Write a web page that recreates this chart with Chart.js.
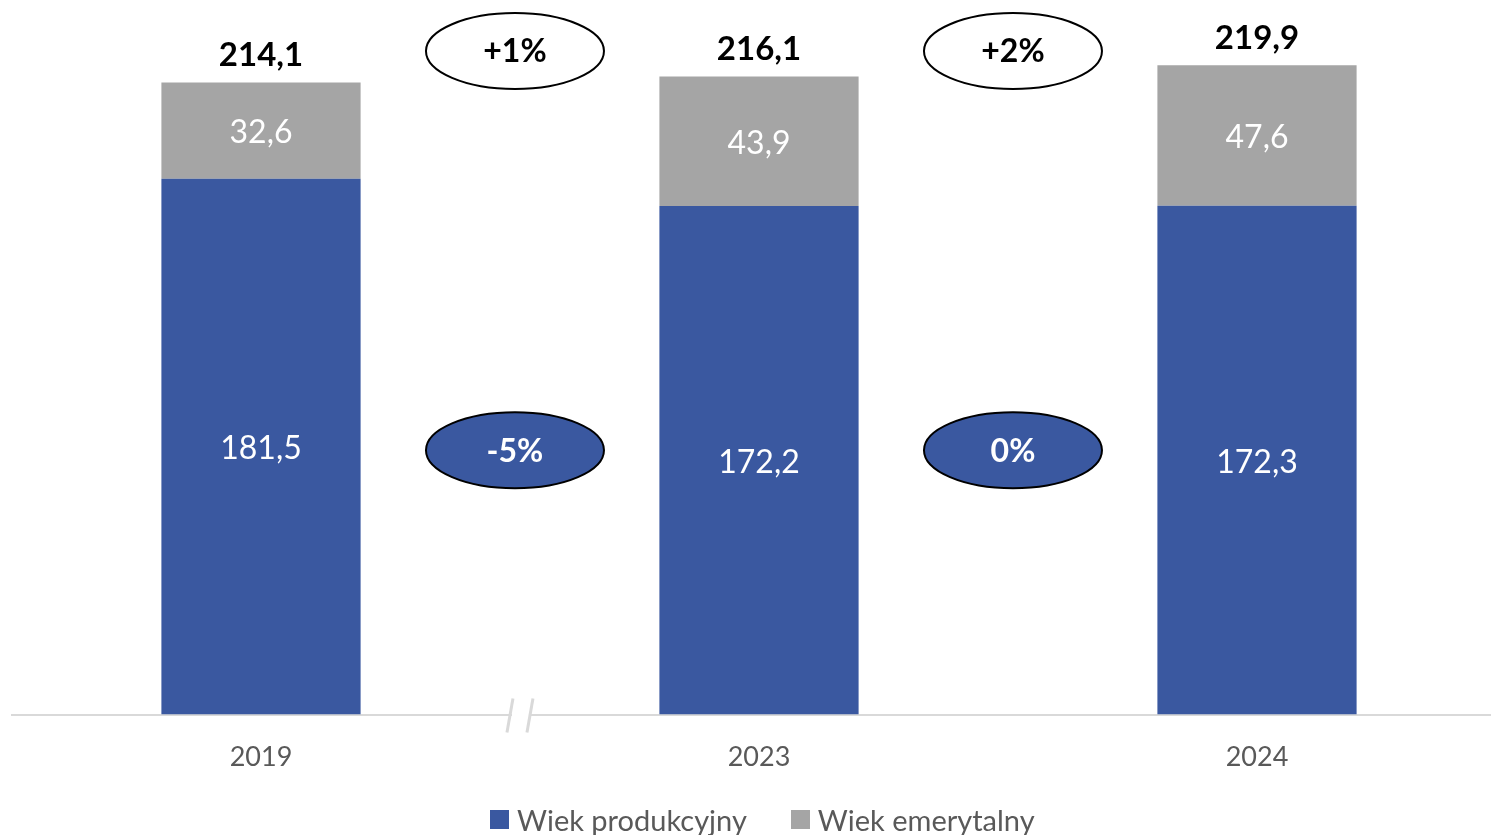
<!DOCTYPE html>
<html>
<head>
<meta charset="utf-8">
<script src="https://cdn.jsdelivr.net/npm/chart.js@4/dist/chart.umd.min.js"></script>
<style>
	html, body { margin: 0; padding: 0; background: #fff; overflow: hidden; }
	#wrap { position: relative; width: 1506px; height: 835px; }
	#legend {
		position: absolute; left: 490px; top: 801px; height: 36px;
		display: flex; align-items: center;
		font: 29px Lato, "Open Sans", sans-serif; color: #595959; white-space: nowrap;
	}
	#legend .item { display: flex; align-items: center; margin-right: 44px; }
	#legend .box { width: 19px; height: 19px; margin-right: 8px; }
</style>
</head>
<body>
<div id="wrap"><canvas id="chart"></canvas><div id="legend"></div></div>
<script>
var years = ['2019', '2023', '2024'];
var workingAge = [181.5, 172.2, 172.3];
var retiredAge = [32.6, 43.9, 47.6];
var seriesNames = ['Wiek produkcyjny', 'Wiek emerytalny'];

var BLUE = '#3A58A0';
var GREY = '#A5A5A5';
var FONT = 'Lato, "Open Sans", sans-serif';

function fmt(v) {
	return v.toFixed(1).replace('.', ',');
}

function pct(a, b) {
	var p = Math.round((b - a) / a * 100);
	return (p > 0 ? '+' : '') + p + '%';
}

// change bubbles between neighbouring years: totals on top, working age below
var bubbles = [];
for (var i = 0; i < years.length - 1; i++) {
	var t0 = workingAge[i] + retiredAge[i], t1 = workingAge[i + 1] + retiredAge[i + 1];
	bubbles.push({ x: i + 0.51, y: 224.7, text: pct(t0, t1), fill: '#fff', color: '#000' });
	bubbles.push({ x: i + 0.51, y: 89.5, text: pct(workingAge[i], workingAge[i + 1]), fill: BLUE, color: '#fff' });
}

var overlay = {
	id: 'overlay',
	afterDatasetsDraw: function (chart) {
		var ctx = chart.ctx, xs = chart.scales.x, ys = chart.scales.y;
		ctx.save();

		// values inside each segment
		ctx.font = '32px ' + FONT;
		ctx.fillStyle = '#fff';
		ctx.textAlign = 'center';
		ctx.textBaseline = 'middle';
		chart.data.datasets.forEach(function (ds, di) {
			chart.getDatasetMeta(di).data.forEach(function (bar, j) {
				ctx.fillText(fmt(ds.data[j]), bar.x, (bar.y + bar.base) / 2 + 2);
			});
		});

		// totals above the stacks
		ctx.font = 'bold 33px ' + FONT;
		ctx.fillStyle = '#000';
		chart.getDatasetMeta(1).data.forEach(function (bar, j) {
			ctx.fillText(fmt(workingAge[j] + retiredAge[j]), bar.x, bar.y - 27);
		});

		// change bubbles
		bubbles.forEach(function (b) {
			var cx = xs.getPixelForValue(b.x), cy = ys.getPixelForValue(b.y);
			ctx.beginPath();
			ctx.ellipse(cx, cy, 89, 38, 0, 0, Math.PI * 2);
			ctx.fillStyle = b.fill;
			ctx.fill();
			ctx.lineWidth = 2;
			ctx.strokeStyle = '#000';
			ctx.stroke();
			ctx.font = 'bold 32px ' + FONT;
			ctx.fillStyle = b.color;
			ctx.fillText(b.text, cx, cy + 1);
		});

		// axis break between 2019 and 2023
		var bx = xs.getPixelForValue(0.52), by = ys.getPixelForValue(0);
		ctx.fillStyle = '#fff';
		ctx.fillRect(bx - 8, by - 4, 17, 8);
		ctx.strokeStyle = '#D9D9D9';
		ctx.lineWidth = 3;
		[-10, 10].forEach(function (off) {
			ctx.beginPath();
			ctx.moveTo(bx + off + 3, by - 16);
			ctx.lineTo(bx + off - 3, by + 18);
			ctx.stroke();
		});
		ctx.restore();
	}
};

var chart = new Chart(document.getElementById('chart'), {
	type: 'bar',
	data: {
		labels: years,
		datasets: [
			{ label: seriesNames[0], data: workingAge, backgroundColor: BLUE },
			{ label: seriesNames[1], data: retiredAge, backgroundColor: GREY }
		]
	},
	options: {
		responsive: true,
		maintainAspectRatio: false,
		animation: false,
		datasets: { bar: { barPercentage: 0.4, categoryPercentage: 1 } },
		layout: { padding: { left: 12, right: 0, top: 0, bottom: 36 } },
		plugins: {
			tooltip: { enabled: false },
			legend: { display: false }
		},
		scales: {
			x: {
				stacked: true,
				grid: { display: false, drawTicks: false },
				border: { color: '#D9D9D9', width: 2 },
				ticks: { color: '#595959', font: { family: FONT, size: 27 }, padding: 26 }
			},
			y: {
				stacked: true,
				display: false,
				min: 0,
				max: 242
			}
		}
	},
	plugins: [overlay]
});

// legend below the axis, built from the datasets
var legend = document.getElementById('legend');
chart.data.datasets.forEach(function (ds) {
	var item = document.createElement('span');
	item.className = 'item';
	var box = document.createElement('span');
	box.className = 'box';
	box.style.background = ds.backgroundColor;
	item.appendChild(box);
	item.appendChild(document.createTextNode(ds.label));
	legend.appendChild(item);
});
</script>
</body>
</html>
